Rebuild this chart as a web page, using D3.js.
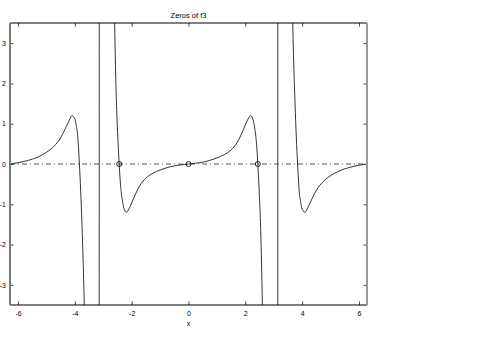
<!DOCTYPE html>
<html>
<head>
<meta charset="utf-8">
<script src="https://cdn.jsdelivr.net/npm/d3@7"></script>
<style>
  body { margin: 0; background: #fff; }
  text { font-family: "Liberation Sans", Arial, sans-serif; }
</style>
</head>
<body>
<div id="chart"></div>
<script>
const width = 480;
const height = 342;

const titleText = "Zeros of f3";
const xLabelText = "x";
const xTicks = [-6, -4, -2, 0, 2, 4, 6];
const yTicks = [-3, -2, -1, 0, 1, 2, 3];

// curve; values past the poles are off the chart
const curveX = [
    -6.283, -6.0, -5.75, -5.5, -5.25, -5.0, -4.75, -4.5, -4.35, -4.2, -4.1, -4.0, -3.95, -3.9, -3.84, -3.75, -3.67, -3.15,
    -3.135, -2.6, -2.54, -2.49, -2.44, -2.40, -2.34, -2.28, -2.19, -2.1, -2.0, -1.85, -1.7, -1.5, -1.25, -1.0, -0.75, -0.5, -0.25,
    0,
    0.25, 0.5, 0.75, 1.0, 1.25, 1.5, 1.7, 1.85, 2.0, 2.1, 2.19, 2.28, 2.34, 2.40, 2.44, 2.49, 2.54, 2.6, 3.135,
    3.15, 3.67, 3.75, 3.84, 3.9, 3.95, 4.0, 4.1, 4.2, 4.35, 4.5, 4.75, 5.0, 5.25, 5.5, 5.75, 6.0, 6.283
];
const curveY = [
    0, 0.03, 0.07, 0.12, 0.19, 0.29, 0.43, 0.65, 0.86, 1.08, 1.2, 1.12, 0.95, 0.7, 0, -1.5, -3.5, -60,
    60, 3.5, 1.6, 0.7, 0, -0.45, -0.85, -1.08, -1.2, -1.12, -0.97, -0.72, -0.52, -0.35, -0.23, -0.15, -0.09, -0.045, -0.02,
    0,
    0.02, 0.045, 0.09, 0.15, 0.23, 0.35, 0.52, 0.72, 0.97, 1.12, 1.2, 1.08, 0.85, 0.45, 0, -0.7, -1.6, -3.5, -60,
    60, 3.5, 1.5, 0, -0.7, -0.95, -1.12, -1.2, -1.08, -0.86, -0.65, -0.43, -0.29, -0.19, -0.12, -0.07, -0.03, 0
];
const zerosX = [-2.44, 0, 2.44];
const zerosY = [0, 0, 0];

const plot = { left: 10, right: 367, top: 23, bottom: 305 };

const x = d3.scaleLinear()
    .domain([-2 * Math.PI, 2 * Math.PI])
    .range([plot.left, plot.right]);

const y = d3.scaleLinear()
    .domain([-3.5, 3.5])
    .range([plot.bottom, plot.top]);

const svg = d3.select("#chart")
    .append("svg")
    .attr("width", width)
    .attr("height", height);

svg.append("defs").append("clipPath")
    .attr("id", "plotClip")
    .append("rect")
    .attr("x", plot.left)
    .attr("y", plot.top)
    .attr("width", plot.right - plot.left)
    .attr("height", plot.bottom - plot.top);

const tickLen = 3.5;
const fmt = d => String(d);

// ticks on all four sides, pointing inward
const bottomAxis = svg.append("g")
    .attr("transform", `translate(0,${plot.bottom})`)
    .call(d3.axisBottom(x).tickValues(xTicks).tickSize(-tickLen).tickPadding(6).tickFormat(fmt));
const topAxis = svg.append("g")
    .attr("transform", `translate(0,${plot.top})`)
    .call(d3.axisTop(x).tickValues(xTicks).tickSize(-tickLen).tickFormat(""));
const leftAxis = svg.append("g")
    .attr("transform", `translate(${plot.left},0)`)
    .call(d3.axisLeft(y).tickValues(yTicks).tickSize(-tickLen).tickPadding(4).tickFormat(fmt));
const rightAxis = svg.append("g")
    .attr("transform", `translate(${plot.right},0)`)
    .call(d3.axisRight(y).tickValues(yTicks).tickSize(-tickLen).tickFormat(""));

[bottomAxis, topAxis, leftAxis, rightAxis].forEach(a => {
    a.select(".domain").remove();
    a.selectAll(".tick line").attr("stroke", "#444").attr("stroke-width", 1);
    a.selectAll("text").attr("font-size", "7px").attr("fill", "#000");
});

// zero reference line, dash-dot
svg.append("line")
    .attr("x1", x(-2 * Math.PI))
    .attr("x2", x(2 * Math.PI))
    .attr("y1", y(0))
    .attr("y2", y(0))
    .attr("stroke", "#555")
    .attr("stroke-width", 1)
    .attr("stroke-dasharray", "5,3,1,3");

const points = curveX.map((d, i) => [d, curveY[i]]);

const line = d3.line()
    .x(d => x(d[0]))
    .y(d => y(d[1]))
    .curve(d3.curveMonotoneX);

svg.append("path")
    .datum(points)
    .attr("clip-path", "url(#plotClip)")
    .attr("d", line)
    .attr("fill", "none")
    .attr("stroke", "#333")
    .attr("stroke-width", 1);

svg.selectAll("circle.zero")
    .data(zerosX.map((d, i) => [d, zerosY[i]]))
    .enter()
    .append("circle")
    .attr("class", "zero")
    .attr("cx", d => x(d[0]))
    .attr("cy", d => y(d[1]))
    .attr("r", 2.5)
    .attr("fill", "none")
    .attr("stroke", "#222")
    .attr("stroke-width", 1);

// box: dark top/bottom, grey thicker sides
svg.append("line")
    .attr("x1", plot.left).attr("x2", plot.right)
    .attr("y1", plot.top).attr("y2", plot.top)
    .attr("stroke", "#000").attr("stroke-width", 1);
svg.append("line")
    .attr("x1", plot.left).attr("x2", plot.right)
    .attr("y1", plot.bottom).attr("y2", plot.bottom)
    .attr("stroke", "#000").attr("stroke-width", 1);
svg.append("line")
    .attr("x1", plot.left).attr("x2", plot.left)
    .attr("y1", plot.top).attr("y2", plot.bottom)
    .attr("stroke", "#777").attr("stroke-width", 2);
svg.append("line")
    .attr("x1", plot.right).attr("x2", plot.right)
    .attr("y1", plot.top).attr("y2", plot.bottom)
    .attr("stroke", "#999").attr("stroke-width", 2);

svg.append("text")
    .text(titleText)
    .attr("x", (plot.left + plot.right) / 2)
    .attr("y", 17.5)
    .attr("text-anchor", "middle")
    .attr("font-size", "7.5px");

svg.append("text")
    .text(xLabelText)
    .attr("x", (plot.left + plot.right) / 2)
    .attr("y", 325.5)
    .attr("text-anchor", "middle")
    .attr("font-size", "7px");
</script>
</body>
</html>
